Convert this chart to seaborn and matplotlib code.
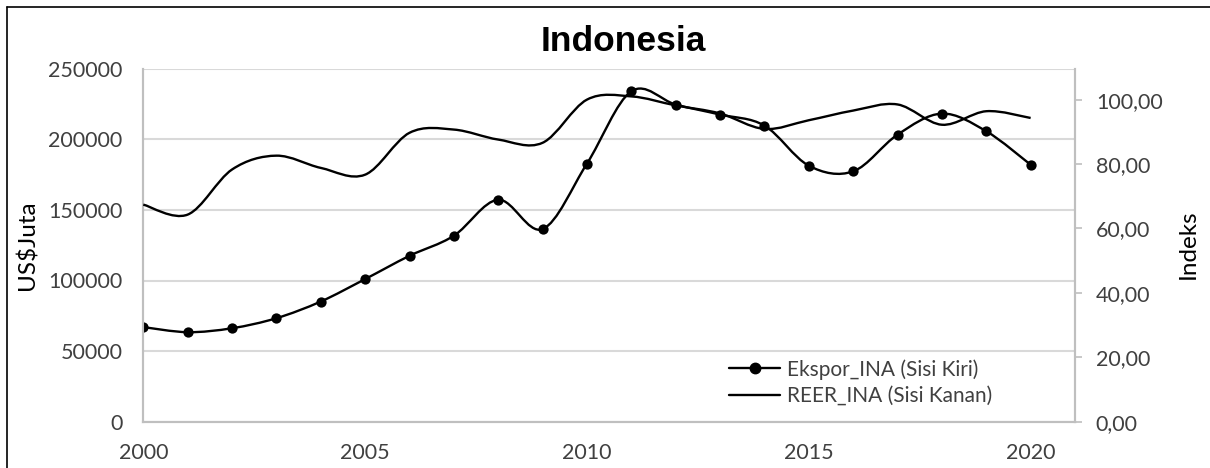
import numpy as np
import pandas as pd
import matplotlib
matplotlib.use("Agg")
import matplotlib.pyplot as plt
import seaborn as sns
from matplotlib.path import Path
from matplotlib.patches import PathPatch
from matplotlib.lines import Line2D
from matplotlib.ticker import FuncFormatter

# data
years = list(range(2000, 2021))
ekspor = [67000, 63400, 66200, 73300, 85100, 101000, 117500, 131700, 157200, 136400,
          182800, 234000, 224600, 217500, 209700, 181300, 177300, 203300, 218200, 205700,
          182000]
reer = [67.4, 64.3, 78.3, 82.6, 78.8, 76.7, 89.7, 90.7, 87.6, 86.6,
        100.0, 101.0, 98.2, 95.7, 90.9, 93.6, 96.6, 98.5, 92.2, 96.4,
        94.3]
left_ticks = [0, 50000, 100000, 150000, 200000, 250000]
right_ticks = [0, 20, 40, 60, 80, 100]
x_ticks = [2000, 2005, 2010, 2015, 2020]

df = pd.DataFrame({"year": years, "ekspor": ekspor, "reer": reer})


def smooth_path(x, y):
    # Excel-style smoothed line: cubic Bezier segments through each point
    pts = np.column_stack([x, y]).astype(float)
    ext = np.vstack([pts[0], pts, pts[-1]])
    verts = [pts[0]]
    codes = [Path.MOVETO]
    for i in range(len(pts) - 1):
        p0, p1, p2, p3 = ext[i], ext[i + 1], ext[i + 2], ext[i + 3]
        verts += [p1 + (p2 - p0) / 6, p2 - (p3 - p1) / 6, p2]
        codes += [Path.CURVE4] * 3
    return Path(verts, codes)


sns.set_theme(style="white")
plt.rcParams["font.family"] = ["Lato", "DejaVu Sans"]

grey = "#bfbfbf"
txt = "#404040"

fig = plt.figure(figsize=(12.1, 4.68), dpi=100)
ax = fig.add_axes([143.3 / 1210, 1 - 421.7 / 468, (1075 - 143.3) / 1210, (421.7 - 68.7) / 468])
ax2 = ax.twinx()

# left axis: exports
ax.add_patch(PathPatch(smooth_path(df["year"], df["ekspor"]), fill=False,
                       edgecolor="black", lw=1.7, zorder=3))
sns.scatterplot(data=df, x="year", y="ekspor", ax=ax, color="black", s=55,
                edgecolor="black", linewidth=0, zorder=4, legend=False)

# right axis: REER
ax2.add_patch(PathPatch(smooth_path(df["year"], df["reer"]), fill=False,
                        edgecolor="black", lw=1.7, zorder=3))

ax.set_xlim(2000, 2021)
ax.set_ylim(0, 250000)
ax2.set_ylim(0, 109.6)
ax.set_xticks(x_ticks)
ax.set_yticks(left_ticks)
ax2.set_yticks(right_ticks)
ax2.yaxis.set_major_formatter(FuncFormatter(lambda v, _: f"{v:.2f}".replace(".", ",")))

ax.grid(axis="y", color="#d9d9d9", lw=1.5)
ax.set_axisbelow(True)
ax.set_xlabel("")
ax.set_ylabel("")

for a in (ax, ax2):
    for s in a.spines.values():
        s.set_color(grey)
        s.set_linewidth(1.5)
    a.spines["top"].set_visible(False)

ax.tick_params(axis="both", length=0, labelsize=15.5, colors=txt)
ax.tick_params(axis="y", pad=15)
ax.tick_params(axis="x", pad=15)
ax2.tick_params(axis="y", length=5, width=1.2, color=grey, labelsize=15.5,
                labelcolor=txt, pad=10, direction="out")

fig.text(623.5 / 1210, 1 - 50.7 / 468, "Indonesia", ha="center", va="baseline",
         fontsize=25.5, fontweight="bold", family=["Liberation Sans", "DejaVu Sans"],
         color="black")
fig.text(27.5 / 1210, 1 - 245 / 468, "US$Juta", rotation=90, ha="center", va="center",
         fontsize=17.5, color="black")
fig.text(1188 / 1210, 1 - 244 / 468, "Indeks", rotation=90, ha="center", va="center",
         fontsize=17.5, color="black")

handles = [
    Line2D([], [], color="black", lw=1.7, marker="o", markersize=7.5),
    Line2D([], [], color="black", lw=1.7),
]
labels = ["Ekspor_INA (Sisi Kiri)", "REER_INA (Sisi Kanan)"]
leg = ax2.legend(handles, labels, loc="center left",
                 bbox_to_anchor=(729 / 1210, 1 - 382.5 / 468),
                 bbox_transform=fig.transFigure, frameon=False, fontsize=15,
                 handlelength=2.45, handletextpad=0.33, labelspacing=0.3,
                 borderpad=0, borderaxespad=0)
for t in leg.get_texts():
    t.set_color(txt)

# chart area frame (left and top edges only visible)
fig.add_artist(Line2D([7 / 1210, 7 / 1210], [0, 1 - 7 / 468], color="black", lw=1.2))
fig.add_artist(Line2D([7 / 1210, 1], [1 - 7 / 468, 1 - 7 / 468], color="black", lw=1.2))

fig.savefig("out.png", dpi=100)
